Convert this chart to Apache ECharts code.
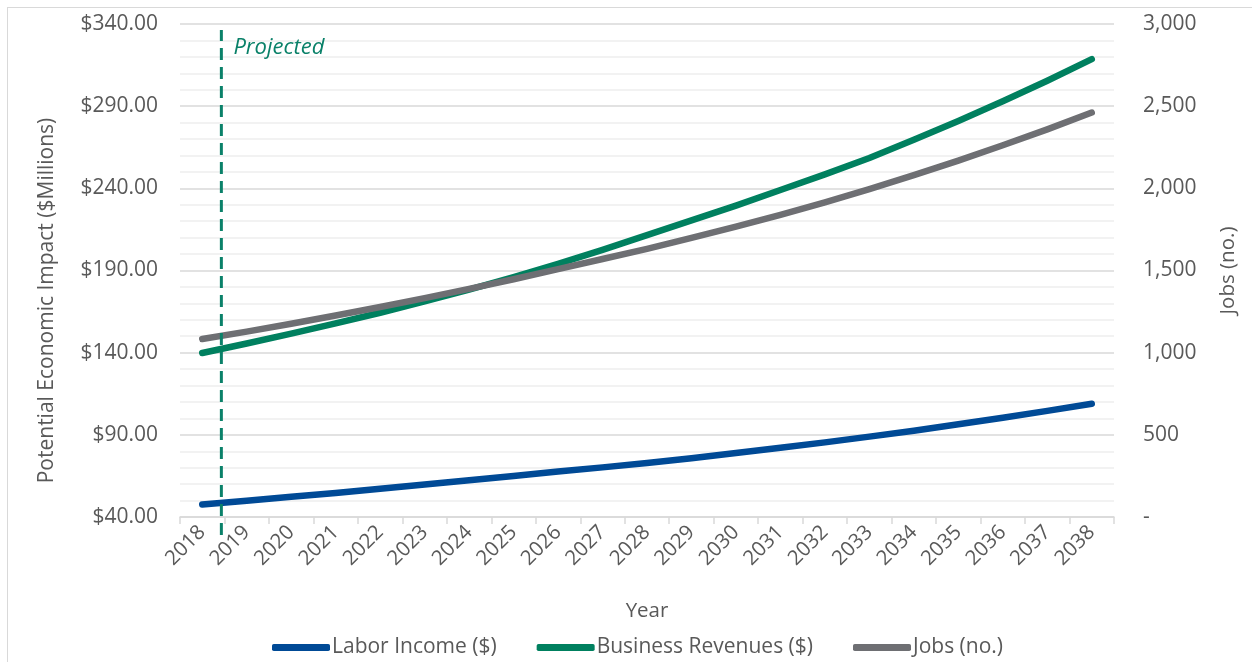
<!DOCTYPE html>
<html>
<head>
<meta charset="utf-8">
<title>Potential Economic Impact 2018–2038</title>
<script src="https://cdn.jsdelivr.net/npm/echarts@6/dist/echarts.min.js"></script>
<style>
  html, body { margin: 0; padding: 0; background: #ffffff; }
  #wrap { position: relative; width: 1252px; height: 662px; overflow: hidden; }
  #frame { position: absolute; left: 7px; top: 7px; width: 1300px; height: 700px;
           border-left: 1.5px solid #d9d9d9; border-top: 1.5px solid #d9d9d9; }
  #chart { position: absolute; left: 0; top: 0; width: 1252px; height: 662px; }
</style>
</head>
<body>
<div id="wrap">
  <div id="frame"></div>
  <div id="chart"></div>
</div>
<script>
// Years on the category axis
const years = ['2018','2019','2020','2021','2022','2023','2024','2025','2026','2027','2028',
               '2029','2030','2031','2032','2033','2034','2035','2036','2037','2038'];

// Labor income, $ millions
const laborIncome = [47.6, 49.9, 52.3, 54.6, 57.2, 59.8, 62.4, 65.0, 67.7, 70.2, 72.8,
                     75.8, 78.9, 82.1, 85.4, 88.9, 92.5, 96.4, 100.4, 104.6, 108.9];

// Business revenues, $ millions
const businessRevenues = [139.8, 145.6, 151.6, 157.8, 164.3, 171.2, 178.4, 186.0, 194.0, 202.5, 211.5,
                          220.5, 229.5, 239.0, 248.5, 258.5, 269.5, 281.0, 293.0, 305.5, 318.6];

// Jobs, count
const jobs = [1083, 1128, 1176, 1226, 1278, 1332, 1388, 1447, 1508, 1570, 1632,
              1698, 1767, 1839, 1915, 1995, 2080, 2169, 2262, 2359, 2461];

// Start of the projected period, in years after 2018
const projectedStart = 0.43;

// Axis ranges
const moneyAxis = { min: 40, max: 340, step: 50 };
const jobsAxis = { min: 0, max: 3000, step: 500 };

const FONT = 'Open Sans';
const TEXT = '#595959';
const BLUE = '#004a96';
const GREEN = '#00805f';
const GREY = '#6e6f73';
const DASH_GREEN = '#0a8169';

const chart = echarts.init(document.getElementById('chart'), null, { renderer: 'canvas' });

chart.setOption({
  animation: false,
  backgroundColor: 'transparent',
  textStyle: { fontFamily: FONT, color: TEXT },
  grid: [
    { left: 180, right: 138, top: 24, bottom: 145 },
    { left: 180, right: 138, top: 30, bottom: 127 }
  ],
  legend: {
    data: ['Labor Income ($)', 'Business Revenues ($)', 'Jobs (no.)'],
    top: 632,
    left: 267,
    icon: 'roundRect',
    itemWidth: 58,
    itemHeight: 7,
    itemGap: 40,
    textStyle: { fontFamily: FONT, fontSize: 21, color: TEXT, padding: [0, 0, 0, -3] }
  },
  xAxis: [
    {
      type: 'category',
      data: years,
      boundaryGap: true,
      name: 'Year',
      nameLocation: 'middle',
      nameGap: 84,
      nameTextStyle: { fontFamily: FONT, fontSize: 20.5, color: TEXT },
      axisLine: { lineStyle: { color: '#d9d9d9', width: 1.5 } },
      axisTick: { show: true, alignWithLabel: false, length: 7, lineStyle: { color: '#d9d9d9', width: 1.5 } },
      axisLabel: { interval: 0, rotate: 45, margin: 12, fontFamily: FONT, fontSize: 20.5, color: TEXT },
      splitLine: { show: false }
    },
    { type: 'value', gridIndex: 1, min: -0.5, max: years.length - 0.5, show: false }
  ],
  yAxis: [
    {
      type: 'value',
      min: moneyAxis.min,
      max: moneyAxis.max,
      interval: moneyAxis.step,
      name: 'Potential Economic Impact ($Millions)',
      nameLocation: 'middle',
      nameGap: 122,
      nameTextStyle: { fontFamily: FONT, fontSize: 21, color: TEXT, padding: [0, 60, 0, 0] },
      axisLine: { show: false },
      axisTick: { show: false },
      axisLabel: {
        margin: 22, fontFamily: FONT, fontSize: 21, color: TEXT,
        formatter: v => '$' + v.toFixed(2)
      },
      splitLine: { show: true, lineStyle: { color: '#d9d9d9', width: 1.5 } },
      minorTick: { show: false, splitNumber: 5 },
      minorSplitLine: { show: true, lineStyle: { color: '#eeeeee', width: 1.5 } }
    },
    {
      type: 'value',
      position: 'right',
      min: jobsAxis.min,
      max: jobsAxis.max,
      interval: jobsAxis.step,
      name: 'Jobs (no.)',
      nameLocation: 'middle',
      nameGap: 104,
      nameRotate: 90,
      nameTextStyle: { fontFamily: FONT, fontSize: 20.5, color: TEXT },
      axisLine: { show: false },
      axisTick: { show: false },
      axisLabel: {
        margin: 29, fontFamily: FONT, fontSize: 21, color: TEXT,
        formatter: v => v === 0 ? '-' : v.toLocaleString('en-US')
      },
      splitLine: { show: false }
    },
    { type: 'value', gridIndex: 1, min: 0, max: 1, show: false }
  ],
  series: [
    {
      name: 'Labor Income ($)',
      type: 'line',
      data: laborIncome,
      yAxisIndex: 0,
      symbol: 'none',
      color: BLUE,
      lineStyle: { width: 6.5, color: BLUE, cap: 'round', join: 'round' }
    },
    {
      name: 'Business Revenues ($)',
      type: 'line',
      data: businessRevenues,
      yAxisIndex: 0,
      symbol: 'none',
      color: GREEN,
      lineStyle: { width: 6.5, color: GREEN, cap: 'round', join: 'round' }
    },
    {
      name: 'Jobs (no.)',
      type: 'line',
      data: jobs,
      yAxisIndex: 1,
      symbol: 'none',
      color: GREY,
      lineStyle: { width: 6.5, color: GREY, cap: 'round', join: 'round' }
    },
    {
      name: 'Projected',
      type: 'line',
      xAxisIndex: 1,
      yAxisIndex: 2,
      symbol: 'circle',
      symbolSize: 0.1,
      itemStyle: { color: 'rgba(0,0,0,0)' },
      lineStyle: { width: 3, color: DASH_GREEN, type: [12, 7] },
      z: 5,
      data: [
        [projectedStart, 0],
        {
          value: [projectedStart, 1],
          label: {
            show: true,
            formatter: 'Projected',
            position: 'right',
            distance: 12,
            offset: [0, 18],
            fontFamily: FONT,
            fontStyle: 'italic',
            fontSize: 22,
            color: DASH_GREEN
          }
        }
      ]
    }
  ]
});
</script>
</body>
</html>
